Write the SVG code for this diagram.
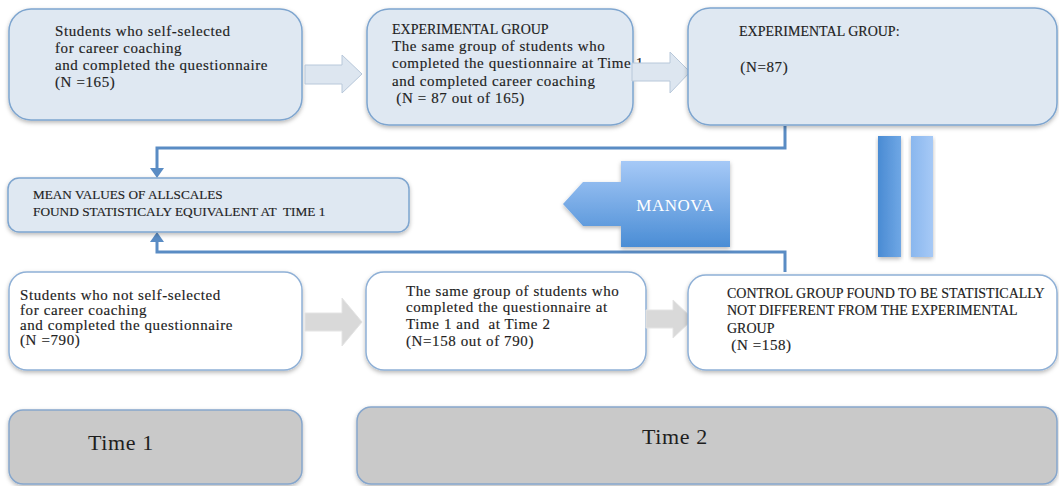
<svg xmlns="http://www.w3.org/2000/svg" width="1059" height="486" viewBox="0 0 1059 486">
  <style>
    .txt { font-family: "Liberation Serif", "Times New Roman", serif; font-size: 15px; letter-spacing: 0.6px; fill: #222222; stroke: #222222; stroke-width: 0.15px; white-space: pre; }
    .caps { font-size: 14px; letter-spacing: 0; }
    .blue { fill: #dfe8f2; stroke: #7ea5cf; stroke-width: 1.5; }
    .white { fill: #ffffff; stroke: #8fb0d6; stroke-width: 1.5; }
    .grey { fill: #c9c9c9; stroke: #86a6cc; stroke-width: 1.5; }
    .barrow { fill: #dde6f0; stroke: #b8c8da; stroke-width: 1; }
    .garrow { fill: #d9d9d9; stroke: #e4e4e4; stroke-width: 1; }
    .conn { fill: none; stroke: #5a8cc4; stroke-width: 3; }
    .time { font-family: "Liberation Serif", "Times New Roman", serif; font-size: 22px; letter-spacing: 0.6px; fill: #1e1e1e; }
  </style>
  <defs>
    <filter id="shadow" x="-10%" y="-10%" width="120%" height="130%">
      <feDropShadow dx="0" dy="2" stdDeviation="2" flood-color="#000" flood-opacity="0.28"/>
    </filter>
    <linearGradient id="manovaGrad" x1="0" y1="0" x2="0" y2="1">
      <stop offset="0" stop-color="#a6c9f7"/>
      <stop offset="1" stop-color="#4a8dd5"/>
    </linearGradient>
    <linearGradient id="barDark" x1="0" y1="0" x2="1" y2="0">
      <stop offset="0" stop-color="#4a8bd3"/>
      <stop offset="1" stop-color="#6fa7e5"/>
    </linearGradient>
    <linearGradient id="barLight" x1="0" y1="0" x2="1" y2="0">
      <stop offset="0" stop-color="#8ab7ee"/>
      <stop offset="1" stop-color="#a6c9f6"/>
    </linearGradient>
  </defs>

  <!-- connectors -->
  <g id="connectors">
    <path class="conn" d="M785,126 V148 H157 V170"/>
    <path class="conn" d="M785,272 V252 H157 V240"/>
    <polygon points="150,168 164,168 157,178" fill="#5a8cc4"/>
    <polygon points="150,242 164,242 157,232" fill="#5a8cc4"/>
  </g>

  <!-- top row -->
  <g id="n-selfselected">
    <rect class="blue" x="9" y="9" width="293" height="111" rx="22" filter="url(#shadow)"/>
    <text class="txt" x="55" y="36">Students who self-selected</text>
    <text class="txt" x="55" y="53">for career coaching</text>
    <text class="txt" x="55" y="70">and completed the questionnaire</text>
    <text class="txt" x="55" y="87">(N =165)</text>
  </g>

  <g id="a1">
    <polygon class="barrow" points="305,65 342,65 342,55 362,74 342,93 342,84 305,84"/>
  </g>

  <g id="n-experimental">
    <rect class="blue" x="367" y="9" width="266" height="116" rx="22" filter="url(#shadow)"/>
    <text class="txt caps" x="392" y="34">EXPERIMENTAL GROUP</text>
    <text class="txt" x="392" y="51">The same group of students who</text>
    <text class="txt" x="392" y="68">completed the questionnaire at Time 1</text>
    <text class="txt" x="392" y="86">and completed career coaching</text>
    <text class="txt" x="392" y="103"> (N = 87 out of 165)</text>
  </g>

  <g id="a2">
    <polygon class="barrow" points="632,63 670,63 670,52 690,72 670,93 670,81 632,81"/>
  </g>

  <g id="n-experimental-87">
    <rect class="blue" x="688" y="8" width="369" height="117" rx="22" filter="url(#shadow)"/>
    <text class="txt caps" x="739" y="36">EXPERIMENTAL GROUP:</text>
    <text class="txt" x="736" y="72"> (N=87)</text>
  </g>

  <!-- middle row -->
  <g id="n-mean">
    <rect class="blue" x="8" y="178" width="401" height="54" rx="11" filter="url(#shadow)"/>
    <text class="txt caps" x="33" y="199" style="font-size:13.2px">MEAN VALUES OF ALLSCALES</text>
    <text class="txt caps" x="33" y="216" style="font-size:13.3px">FOUND STATISTICALY EQUIVALENT AT  TIME 1</text>
  </g>

  <g id="n-manova">
    <polygon points="730,161 621,161 621,182 583,182 563,204 583,226 621,226 621,247 730,247" fill="url(#manovaGrad)" filter="url(#shadow)"/>
    <text x="675" y="211" text-anchor="middle" font-family="Liberation Serif, serif" font-size="17" fill="#ffffff" letter-spacing="0.5">MANOVA</text>
  </g>

  <g id="n-equals">
    <rect x="878" y="136" width="23" height="121" fill="url(#barDark)" filter="url(#shadow)"/>
    <rect x="911" y="136" width="22" height="121" fill="url(#barLight)" filter="url(#shadow)"/>
  </g>

  <!-- bottom row -->
  <g id="n-notselected">
    <rect class="white" x="9" y="272" width="293" height="98" rx="18" filter="url(#shadow)"/>
    <text class="txt" x="20" y="300">Students who not self-selected</text>
    <text class="txt" x="20" y="315">for career coaching</text>
    <text class="txt" x="20" y="330">and completed the questionnaire</text>
    <text class="txt" x="20" y="345">(N =790)</text>
  </g>

  <g id="a3">
    <polygon class="garrow" points="305,313 342,313 342,298 362,322 342,346 342,331 305,331"/>
  </g>

  <g id="n-same158">
    <rect class="white" x="366" y="272" width="280" height="98" rx="18" filter="url(#shadow)"/>
    <text class="txt" x="406" y="296">The same group of students who</text>
    <text class="txt" x="406" y="312">completed the questionnaire at</text>
    <text class="txt" x="406" y="329">Time 1 and  at Time 2</text>
    <text class="txt" x="406" y="346">(N=158 out of 790)</text>
  </g>

  <g id="a4">
    <polygon class="garrow" points="646,310 673,310 673,300 693,319 673,338 673,328 646,328"/>
  </g>

  <g id="n-control">
    <rect class="white" x="688" y="275" width="369" height="95" rx="18" filter="url(#shadow)"/>
    <text class="txt caps" x="727" y="298">CONTROL GROUP FOUND TO BE STATISTICALLY</text>
    <text class="txt caps" x="727" y="315">NOT DIFFERENT FROM THE EXPERIMENTAL</text>
    <text class="txt caps" x="727" y="333">GROUP</text>
    <text class="txt" x="727" y="350"> (N =158)</text>
  </g>

  <!-- time bands -->
  <g id="n-time1">
    <rect class="grey" x="9" y="410" width="293" height="74" rx="14" filter="url(#shadow)"/>
    <text class="time" x="121" y="450" text-anchor="middle">Time 1</text>
  </g>

  <g id="n-time2">
    <rect class="grey" x="357" y="407" width="700" height="77" rx="14" filter="url(#shadow)"/>
    <text class="time" x="675" y="444" text-anchor="middle">Time 2</text>
  </g>
</svg>
